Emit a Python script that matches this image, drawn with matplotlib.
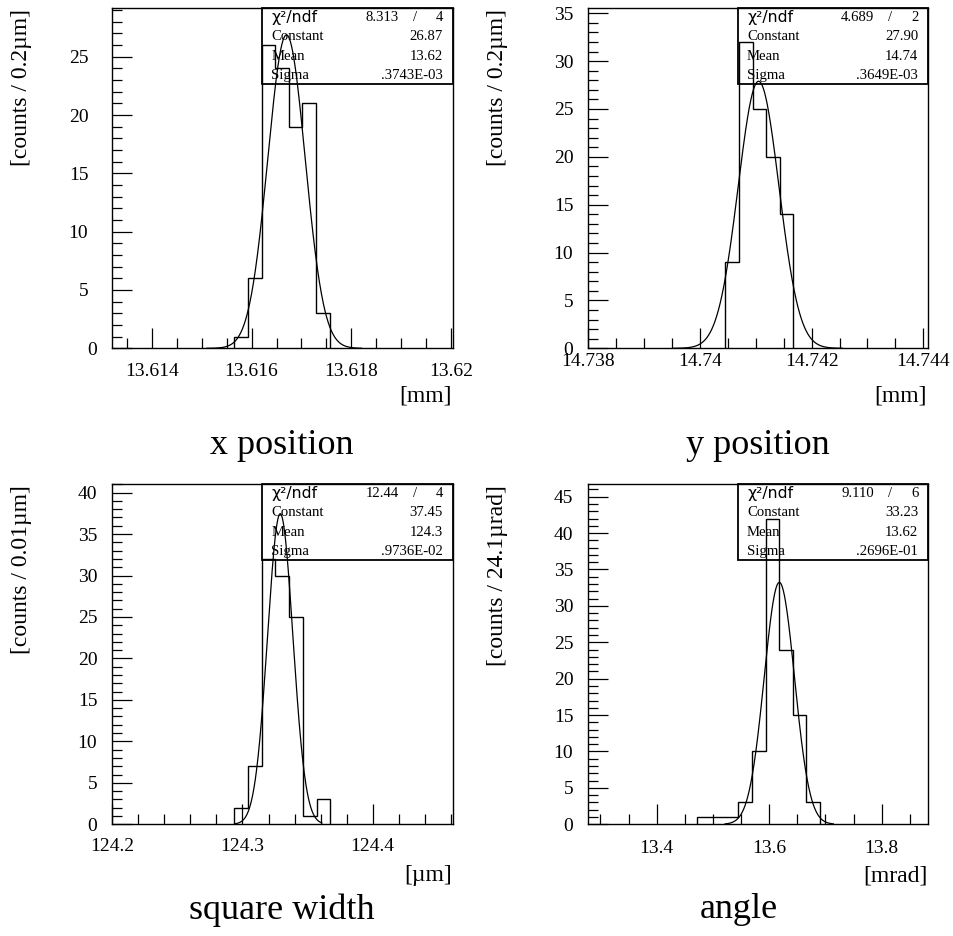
import numpy as np
import matplotlib
matplotlib.use('Agg')
import matplotlib.pyplot as plt
from matplotlib.ticker import MultipleLocator, FixedLocator
from matplotlib.patches import Rectangle

plt.rcParams['font.family'] = ['Liberation Serif', 'DejaVu Serif']

# --- histogram data ---
xpos_edges = [13.615652, 13.615932, 13.6162, 13.616466, 13.616746, 13.617012, 13.617292, 13.617566]
xpos_counts = [1, 6, 26, 24, 19, 21, 3]

ypos_edges = [14.74044, 14.740691, 14.740943, 14.741183, 14.741427, 14.741673]
ypos_counts = [9, 32, 25, 20, 14]

width_edges = [124.29385, 124.30462, 124.31492, 124.32515, 124.33592, 124.34615, 124.35692, 124.36746]
width_counts = [2, 7, 32, 30, 25, 1, 3]

angle_edges = [13.4722, 13.4965, 13.5209, 13.5451, 13.5689, 13.5938, 13.6174, 13.6423, 13.6654, 13.6903]
angle_counts = [1, 1, 1, 3, 10, 42, 24, 15, 3]

# gaussian fit parameters (constant, mean, sigma) and drawn range
fit_const = [26.87, 27.90, 37.45, 33.23]
fit_mean = [13.6167, 14.74105, 124.329, 13.618]
fit_sigma = [0.3743e-3, 0.3649e-3, 0.9736e-2, 0.2696e-1]
fit_range = [(13.6151, 13.6182), (14.73953, 14.74255), (124.2944, 124.361), (13.5214, 13.714)]

# stats box text
chi2 = ['8.313', '4.689', '12.44', '9.110']
ndf = ['4', '2', '4', '6']
const_txt = ['26.87', '27.90', '37.45', '33.23']
mean_txt = ['13.62', '14.74', '124.3', '13.62']
sigma_txt = ['.3743E-03', '.3649E-03', '.9736E-02', '.2696E-01']

# axes labels
titles = ['x position', 'y position', 'square width', 'angle']
xunits = ['[mm]', '[mm]', '[µm]', '[mrad]']
ylabels = ['[counts / 0.2µm]', '[counts / 0.2µm]', '[counts / 0.01µm]', '[counts / 24.1µrad]']

xlims = [(13.61321, 13.62003), (14.738, 14.74409), (124.2, 124.4615), (13.2784, 13.8828)]
ylims = [29.15, 35.52, 41.0, 46.7]
xticks = [[13.614, 13.616, 13.618, 13.62], [14.738, 14.74, 14.742, 14.744],
          [124.2, 124.3, 124.4], [13.4, 13.6, 13.8]]
xticklabels = [['13.614', '13.616', '13.618', '13.62'], ['14.738', '14.74', '14.742', '14.744'],
               ['124.2', '124.3', '124.4'], ['13.4', '13.6', '13.8']]
xminor = [0.0005, 0.0005, 0.02, 0.05]
ymax_tick = [25, 35, 40, 45]

W, H = 954, 936


def rect(l, r, t, b):
    return [l / W, 1 - b / H, (r - l) / W, (b - t) / H]


boxes = [rect(112.3, 452.7, 8.3, 348.3), rect(588.3, 928.3, 8.3, 348.3),
         rect(112.3, 452.7, 484.3, 824.3), rect(588.3, 928.3, 484.3, 824.3)]
xpad = [10.5, 3.5, 10, 11.5]
title_xy = [(282, 446), (758, 446), (282, 910), (739, 910)]
unit_xy = [(452, 396), (927, 396), (452, 875), (928, 876)]
ylab_xy = [(22, 9), (497, 9), (22, 485), (497, 485)]

hists = [(xpos_edges, xpos_counts), (ypos_edges, ypos_counts),
         (width_edges, width_counts), (angle_edges, angle_counts)]

fig = plt.figure(figsize=(W / 100, H / 100), dpi=100)

for i in range(4):
    ax = fig.add_axes(boxes[i])
    edges, counts = hists[i]
    ax.stairs(counts, edges, color='k', lw=1.0, baseline=0)

    xs = np.linspace(fit_range[i][0], fit_range[i][1], 400)
    ax.plot(xs, fit_const[i] * np.exp(-0.5 * ((xs - fit_mean[i]) / fit_sigma[i]) ** 2), color='k', lw=0.9)

    ax.set_xlim(*xlims[i])
    ax.set_ylim(0, ylims[i])
    ax.xaxis.set_major_locator(FixedLocator(xticks[i]))
    ax.set_xticklabels(xticklabels[i])
    ax.xaxis.set_minor_locator(MultipleLocator(xminor[i]))
    ax.yaxis.set_major_locator(MultipleLocator(5))
    ax.yaxis.set_minor_locator(MultipleLocator(1))
    ax.set_yticks(range(0, ymax_tick[i] + 1, 5))
    ax.tick_params(which='both', direction='in', top=False, right=False, width=0.9, colors='k')
    ax.tick_params(which='major', length=14.4, labelsize=14)
    ax.tick_params(which='minor', length=7.2)
    ax.tick_params(axis='x', which='major', pad=xpad[i])
    ax.tick_params(axis='y', which='major', pad=10.8)
    if i == 0:
        for t in ax.yaxis.get_major_ticks()[1:]:
            t.set_pad(17.3)
    for sp in ax.spines.values():
        sp.set_linewidth(1.0)

    # stats box
    ax.add_patch(Rectangle((0.44, 1 - 0.2235), 0.56, 0.2235, transform=ax.transAxes,
                           fill=False, lw=1.3, ec='k', clip_on=False, zorder=5))
    rows = [1 - 0.0265, 1 - 0.0835, 1 - 0.1424, 1 - 0.199]
    ax.text(0.467, rows[0], 'χ²/ndf', transform=ax.transAxes, ha='left', va='center',
            fontsize=11.3, family=['DejaVu Sans'])
    ax.text(0.841, rows[0], chi2[i], transform=ax.transAxes, ha='right', va='center', fontsize=10.6)
    ax.text(0.889, rows[0], '/', transform=ax.transAxes, ha='center', va='center', fontsize=10.6)
    ax.text(0.9706, rows[0], ndf[i], transform=ax.transAxes, ha='right', va='center', fontsize=10.6)
    for r, name, val in zip(rows[1:], ['Constant', 'Mean', 'Sigma'],
                            [const_txt[i], mean_txt[i], sigma_txt[i]]):
        ax.text(0.467, r, name, transform=ax.transAxes, ha='left', va='center', fontsize=10.6)
        ax.text(0.9706, r, val, transform=ax.transAxes, ha='right', va='center', fontsize=10.6)

    tx, ty = title_xy[i]
    fig.text(tx / W, 1 - ty / H, titles[i], ha='center', va='center', fontsize=26)
    ux, uy = unit_xy[i]
    fig.text(ux / W, 1 - uy / H, xunits[i], ha='right', va='center', fontsize=17)
    lx, ly = ylab_xy[i]
    fig.text(lx / W, 1 - ly / H, ylabels[i], ha='center', va='top', rotation=90, fontsize=17)

fig.savefig('out.png', dpi=100)
